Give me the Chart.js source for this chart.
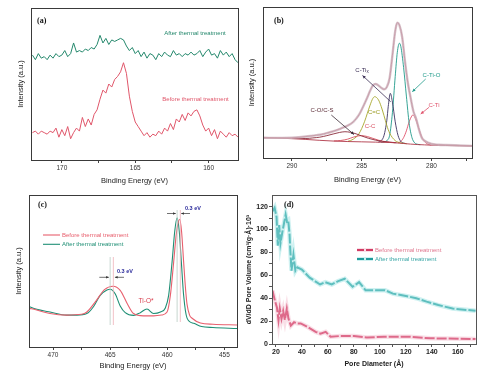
<!DOCTYPE html>
<html><head><meta charset="utf-8">
<script src="https://cdn.jsdelivr.net/npm/chart.js@4/dist/chart.umd.min.js"></script>
<style>
html,body{margin:0;padding:0;background:#fff;}
#wrap{position:relative;width:488px;height:373px;overflow:hidden;background:#fff;}
canvas{position:absolute;}
</style></head><body>
<div id="wrap">
<canvas id="ca" width="244" height="190" style="left:0;top:0"></canvas>
<canvas id="cb" width="244" height="190" style="left:244px;top:0"></canvas>
<canvas id="cc" width="244" height="183" style="left:0;top:190px"></canvas>
<canvas id="cd" width="244" height="183" style="left:244px;top:190px"></canvas>
</div>
<script>
// ---------- Panel (a): S 2p ----------
const energyA = [172.0,171.8,171.6,171.4,171.2,171.0,170.8,170.6,170.4,170.2,
170.0,169.8,169.6,169.4,169.2,169.0,168.8,168.6,168.4,168.2,
168.0,167.8,167.6,167.4,167.2,167.0,166.8,166.6,166.4,166.2,
166.0,165.8,165.6,165.4,165.2,165.0,164.8,164.6,164.4,164.2,
164.0,163.8,163.6,163.4,163.2,163.0,162.8,162.6,162.4,162.2,
162.0,161.8,161.6,161.4,161.2,161.0,160.8,160.6,160.4,160.2,
160.0,159.8,159.6,159.4,159.2,159.0,158.8,158.6,158.4,158.2,158.0];
const beforeA = [18,19,17,19,18,17,19,18,21,15,
20,16,22,14,18,21,19,28,22,27,
23,30,33,40,46,44,50,48,53,55,
58,64,57,42,32,25,22,19,16,18,
15,17,16,19,17,21,19,24,20,27,
25,30,26,31,29,32,33,29,23,19,
21,16,20,14,19,17,15,18,16,17,15];
const afterA = [69,66,70,67,68,66,69,67,70,68,
69,72,68,70,77,71,72,71,73,72,
74,73,76,82,77,80,76,79,78,79,
80,79,75,72,74,70,72,68,71,67,
70,69,66,70,68,71,69,68,72,69,
70,68,70,69,71,69,70,72,68,71,
73,69,70,67,72,69,71,68,70,66,64];
const ticksA = [170,167.5,165,162.5,160];

// ---------- Panel (b): C 1s fit ----------
const envE = [292,291,290,289.5,289,288.5,288,287.5,287,286.5,286,285.6,285.2,284.9,284.6,284.4,284.2,284.0,283.8,283.6,283.4,283.2,283.0,282.8,282.6,282.45,282.3,282.1,281.9,281.7,281.5,281.3,281.1,280.9,280.7,280.5,280.2,280,279.5,279,278,277];
const envB = [13.4,13.3,13.4,13.7,14.2,14.8,15.4,16.5,17.8,19.5,21.5,24,28.5,34,40,44.5,48,49,48,46.5,45.5,47,53,68,84,89.6,88,80,64,50,40,31,26,19,13.5,11.5,10,9.3,8.8,8.6,8.3,8.0];
const bgE = [292,291,290,289,288,287,286,285,284,283,282.5,282,281.5,281,280.5,280,279,278,277];
const bgB = [13.4,13.2,12.8,12.3,11.7,11.2,10.9,10.7,10.5,10.3,10.0,9.6,9.2,8.9,8.7,8.5,8.3,8.1,7.9];
const tiOE = [283.6,283.4,283.2,283.0,282.8,282.6,282.45,282.3,282.2,282.0,281.8,281.6,281.4,281.2,281.0,280.8];
const tiOB = [10.4,10.6,11.5,15,30,54,70,76,74,60,41,23,13.5,10,9.1,8.8];
const tixE = [283.8,283.6,283.4,283.2,283.1,282.95,282.8,282.6,282.4,282.2,282.0,281.8];
const tixB = [10.6,11.5,15,25,34,42.8,37,24,15,11,9.9,9.5];
const ccE = [286.0,285.6,285.2,284.8,284.6,284.4,284.2,284.07,283.8,283.6,283.4,283.2,283.0,282.6,282.2,281.8];
const ccB = [11,12.5,16,24,29.5,35,39.5,40.6,38.5,34,28,21.5,16.5,11.5,10,9.5];
const ctiE = [282.4,282.2,282.0,281.8,281.6,281.4,281.33,281.2,281.0,280.8,280.6,280.4,280.2,280.0];
const ctiB = [10.0,11,13.5,18,24,28,28.5,27,22,16.5,12,10,9,8.6];
const coE = [290.0,289.0,288.5,288.0,287.5,287.0,286.6,286.2,285.8,285.4,285.0,284.5,284.0,283.5,283.0,282.5];
const coB = [13.0,12.9,13.3,13.8,14.8,16,16.9,17.4,17.0,16.0,14.6,13,11.8,11,10.5,10.1];
const csE = [287.0,286.5,286.0,285.6,285.2,285.0,284.6,284.2,283.8,283.4,283.0,282.6];
const csB = [11.3,11.6,12.5,13.8,14.7,14.8,14.2,13,11.8,10.9,10.4,10.1];
const ticksB = [290,287.5,285,282.5,280,277.5];

// ---------- Panel (c): Ti 2p ----------
const beforeCE = [472.07,471.5,470.26,468.79,467.5,467.04,466.2,465.5,464.75,464.12,463.5,462.95,462.1,461.2,460.5,460.02,459.73,459.44,459.2,458.92,458.75,458.57,458.4,458.27,458.05,457.83,457.1,456,453.9];
const beforeC = [25.4,24.5,22,21,21.5,23,30.7,37.7,40,37.3,28.5,22,20.5,20.5,21,23,34,56,75,84,76,56,38,28,21,18.9,15.8,15,14.5];
const afterCE = [472.07,471.5,470.26,468.79,467.9,467.04,466.46,465.87,465.28,465.0,464.56,464.12,463.68,462.95,462.36,461.78,461.2,460.6,460.17,459.88,459.58,459.35,459.14,458.95,458.77,458.57,458.27,457.68,457,456,453.9];
const afterC = [26.5,25,23,21,21,22,26.5,34,37.5,38,35,27,22.6,20.8,22.6,25,22,23,25.7,34,56,76,85,76,56,34,19,15.6,13.5,12.8,12.2];
const ticksC = [470,467.5,465,462.5,460,457.5,455];

// ---------- Panel (d): pore size distribution ----------
const poreBeforeX = [17.4,19.2,20.8,22,23,24.3,25.6,26.9,28.4,29.7,31.5,34,36.6,39.1,44.2,50.6,54.4,58.3,62.1,69.7,80,90,103,123,138.6,173.6];
const poreBeforeY = [46.6,38,32,20.7,31,22,29,21,31,22,16,19,18,18,15,10.6,9,10.6,6.3,7,7,5.7,6.3,6.3,5,4.3];
const poreAfterX = [17.5,19,20.5,21.5,22.5,23.5,25,26,27.5,28.5,29.5,30.5,31,32,33.5,35,36.5,40,46,54,58,63,68,73,79,84,89,96,104,110,120,128,136,145,156,173.6];
const poreAfterY = [116,119,111,86,104,88,98,104,113,107,108,96,84,64,78,64,67,65,58,52,54,52,55,57,50,54,47,47,47,44,42,40,37,34,31,29];
const ticksDX = [20,30,40,50,60,70,80,90,100,110,120,130,140,150,160,170];
const ticksDY = [0,10,20,30,40,50,60,70,80,90,100,110,120];

// ---------- helpers ----------
const SANS = '"Liberation Sans", Arial, sans-serif';
const SERIF = '"Liberation Serif", "Times New Roman", serif';
function pts(xs, ys){ return xs.map((x,i)=>({x:x, y:ys[i]})); }

const framePlugin = {
  id:'frame',
  afterDatasetsDraw(chart){
    const c = chart.ctx, a = chart.chartArea;
    const col = chart.options.frameColor || '#3a3a3a';
    c.save(); c.strokeStyle = col; c.lineWidth = 1;
    c.strokeRect(Math.round(a.left)+0.5, Math.round(a.top)+0.5, Math.round(a.right-a.left), Math.round(a.bottom-a.top));
    c.restore();
  }
};
function arrowHead(c, x1,y1,x2,y2, size){
  const ang = Math.atan2(y2-y1, x2-x1);
  c.beginPath();
  c.moveTo(x2,y2);
  c.lineTo(x2 - size*Math.cos(ang-0.45), y2 - size*Math.sin(ang-0.45));
  c.lineTo(x2 - size*Math.cos(ang+0.45), y2 - size*Math.sin(ang+0.45));
  c.closePath(); c.fill();
}
function makeNotes(items){
  return {
    id:'notes',
    afterDraw(chart){
      const c = chart.ctx;
      items.forEach(it=>{
        c.save();
        if (it.t==='text'){
          c.font = it.font; c.fillStyle = it.color; c.textAlign = it.align||'left'; c.textBaseline='middle';
          if (it.sub){
            const w = c.measureText(it.s).width;
            c.font = it.subFont;
            const ws = c.measureText(it.sub).width;
            c.font = it.font; c.textAlign='left';
            const x0 = it.align==='center' ? it.x - (w+ws)/2 : it.x;
            c.fillText(it.s, x0, it.y);
            c.font = it.subFont; c.fillText(it.sub, x0+w, it.y+2);
          } else {
            c.fillText(it.s, it.x, it.y);
          }
        } else if (it.t==='arrow'){
          c.strokeStyle = it.color; c.fillStyle = it.color; c.lineWidth = it.w||0.8;
          c.beginPath(); c.moveTo(it.x1,it.y1); c.lineTo(it.x2,it.y2); c.stroke();
          arrowHead(c, it.x1,it.y1,it.x2,it.y2, it.size||3.5);
        } else if (it.t==='line'){
          c.strokeStyle = it.color; c.lineWidth = it.w||1;
          if (it.dash) c.setLineDash(it.dash);
          c.beginPath(); c.moveTo(it.x1,it.y1); c.lineTo(it.x2,it.y2); c.stroke();
        } else if (it.t==='vline'){
          const x = chart.scales.x.getPixelForValue(it.e);
          c.strokeStyle = it.color; c.lineWidth = it.w||1;
          c.beginPath(); c.moveTo(x,it.y1); c.lineTo(x,it.y2); c.stroke();
        }
        c.restore();
      });
    }
  };
}
function xAxis(o){
  return {
    type:'linear', reverse:!!o.reverse, min:o.min, max:o.max,
    afterFit:s=>{ s.height = o.h; },
    afterBuildTicks:s=>{ s.ticks = o.ticks.map(v=>({value:v})); },
    ticks:{ callback:o.label, font:o.tickFont, color:o.tickColor||'#333', padding:1, maxRotation:0, minRotation:0, autoSkip:false },
    grid:{ display:true, drawOnChartArea:false, drawTicks:true, tickLength:3, color:o.gridColor||'#444' },
    border:{ display:false },
    title:{ display:true, text:o.title, font:o.titleFont, color:o.titleColor||'#222', padding:{top:0,bottom:o.tpb} }
  };
}
function yAxisNoTicks(o){
  return {
    type:'linear', min:0, max:100,
    afterFit:s=>{ s.width = o.w; },
    ticks:{ display:false }, grid:{ display:false }, border:{ display:false },
    title:{ display:true, text:'Intensity (a.u.)', font:{family:SANS,size:7.5}, color:'#222', padding:{top:o.tpt,bottom:0} }
  };
}
const baseOpts = { responsive:false, animation:false, devicePixelRatio:1, events:[] };
const noPlug = { legend:{display:false}, tooltip:{enabled:false} };
const line = (data, color, w, extra) => Object.assign({ data:data, borderColor:color, borderWidth:w, pointRadius:0, fill:false, tension:0 }, extra||{});
const smooth = { cubicInterpolationMode:'monotone' };

// ---------- Chart (a) ----------
new Chart(document.getElementById('ca'), {
  type:'line',
  data:{ datasets:[
    line(pts(energyA, afterA), '#23876b', 1),
    line(pts(energyA, beforeA), '#e0566a', 1)
  ]},
  options:Object.assign({}, baseOpts, {
    layout:{ padding:{top:8,right:6,left:0,bottom:0} },
    plugins:noPlug,
    scales:{
      x:xAxis({reverse:true,min:158,max:172.1,h:30,ticks:ticksA,label:v=>(v%5===0?String(v):''),
        tickFont:{family:SANS,size:6.5},title:'Binding Energy (eV)',titleFont:{family:SANS,size:7.5},tpb:4.8}),
      y:yAxisNoTicks({w:31,tpt:16})
    }
  }),
  plugins:[framePlugin, makeNotes([
    {t:'text', s:'(a)', x:37, y:21, font:'bold 8px '+SERIF, color:'#111'},
    {t:'text', s:'After thermal treatment', x:195, y:33.5, align:'center', font:'6px '+SANS, color:'#23876b'},
    {t:'text', s:'Before thermal treatment', x:195.5, y:99, align:'center', font:'6px '+SANS, color:'#e0566a'}
  ])]
});

// ---------- Chart (b) ----------
new Chart(document.getElementById('cb'), {
  type:'line',
  data:{ datasets:[
    line(pts(envE, envB), 'rgba(205,180,190,0.8)', 2.4, smooth),
    line(pts(bgE, bgB), '#b03848', 0.9, smooth),
    line(pts(coE, coB), '#8a2a3a', 0.9, smooth),
    line(pts(csE, csB), '#d8505e', 0.9, smooth),
    line(pts(ccE, ccB), '#a6a62a', 0.9, smooth),
    line(pts(tixE, tixB), '#3b3160', 0.9, smooth),
    line(pts(tiOE, tiOB), '#1f9a8a', 0.9, smooth),
    line(pts(ctiE, ctiB), '#e0506a', 0.9, smooth),
    line(pts(envE, envB), '#b0304c', 0.9, smooth)
  ]},
  options:Object.assign({}, baseOpts, {
    layout:{ padding:{top:7,right:16,left:0,bottom:0} },
    plugins:noPlug,
    scales:{
      x:xAxis({reverse:true,min:277.1,max:292.07,h:32,ticks:ticksB,label:v=>(v%5===0?String(v):''),
        tickFont:{family:SANS,size:6.5},title:'Binding Energy (eV)',titleFont:{family:SANS,size:7.5},tpb:5.8}),
      y:yAxisNoTicks({w:19,tpt:3.8})
    }
  }),
  plugins:[framePlugin, makeNotes([
    {t:'text', s:'(b)', x:30, y:21, font:'bold 8px '+SERIF, color:'#111'},
    {t:'text', s:'C-Ti', sub:'x', x:118, y:70, align:'center', font:'6px '+SANS, subFont:'4.5px '+SANS, color:'#3b2f55'},
    {t:'arrow', x1:146.7, y1:101.7, x2:118.5, y2:75.5, color:'#3b2f55', w:0.8},
    {t:'text', s:'C-Ti-O', x:187.5, y:75, align:'center', font:'6px '+SANS, color:'#1f9a8a'},
    {t:'arrow', x1:181.7, y1:79, x2:168.3, y2:91.7, color:'#1f9a8a', w:0.8},
    {t:'text', s:'C-Ti', x:190, y:105, align:'center', font:'6px '+SANS, color:'#e0506a'},
    {t:'arrow', x1:185, y1:107.3, x2:176.7, y2:114, color:'#e0506a', w:0.8},
    {t:'text', s:'C-O/C-S', x:78, y:110, align:'center', font:'6px '+SANS, color:'#5a2a35'},
    {t:'arrow', x1:87.3, y1:115, x2:110, y2:134.5, color:'#3a2a35', w:0.8},
    {t:'text', s:'C=C', x:130, y:112.7, align:'center', font:'6px '+SANS, color:'#9a9a20'},
    {t:'text', s:'C-C', x:126, y:126.7, align:'center', font:'6px '+SANS, color:'#d85060'}
  ])]
});

// ---------- Chart (c) ----------
new Chart(document.getElementById('cc'), {
  type:'line',
  data:{ datasets:[
    line(pts(beforeCE, beforeC), '#e8606e', 1.1, smooth),
    line(pts(afterCE, afterC), '#1f8f75', 1.1, smooth)
  ]},
  options:Object.assign({}, baseOpts, {
    layout:{ padding:{top:5,right:7,left:0,bottom:0} },
    plugins:noPlug,
    scales:{
      x:xAxis({reverse:true,min:453.9,max:472.1,h:26,ticks:ticksC,label:v=>(v%5===0?String(v):''),
        tickFont:{family:SANS,size:6.5},title:'Binding Energy (eV)',titleFont:{family:SANS,size:7.5},tpb:2.5}),
      y:yAxisNoTicks({w:29,tpt:14.8})
    }
  }),
  plugins:[framePlugin, makeNotes([
    {t:'vline', e:459.14, y1:20, y2:132, color:'#b9ccc4', w:0.8},
    {t:'vline', e:458.86, y1:20, y2:132, color:'#eeb0b8', w:0.8},
    {t:'vline', e:465.0, y1:67, y2:135, color:'#b9ccc4', w:0.8},
    {t:'vline', e:464.72, y1:67, y2:135, color:'#eeb0b8', w:0.8},
    {t:'text', s:'(c)', x:38, y:15, font:'bold 8px '+SERIF, color:'#111'},
    {t:'line', x1:43, y1:45, x2:60, y2:45, color:'#e8606e', w:1.1},
    {t:'text', s:'Before thermal treatment', x:62, y:45, font:'6px '+SANS, color:'#e8606e'},
    {t:'line', x1:43, y1:54.3, x2:60, y2:54.3, color:'#1f8f75', w:1.1},
    {t:'text', s:'After thermal treatment', x:62, y:54.3, font:'6px '+SANS, color:'#1f8f75'},
    {t:'arrow', x1:167, y1:23.5, x2:175.8, y2:23.5, color:'#333', w:0.7, size:3},
    {t:'arrow', x1:190, y1:23.5, x2:181.2, y2:23.5, color:'#333', w:0.7, size:3},
    {t:'text', s:'0.3 eV', x:185, y:18.5, font:'bold 5.5px '+SANS, color:'#2b2b9b'},
    {t:'arrow', x1:99.3, y1:87.3, x2:108.8, y2:87.3, color:'#333', w:0.7, size:3},
    {t:'arrow', x1:124, y1:87.3, x2:114.9, y2:87.3, color:'#333', w:0.7, size:3},
    {t:'text', s:'0.3 eV', x:117, y:81, font:'bold 5.5px '+SANS, color:'#2b2b9b'},
    {t:'text', s:'Ti-O*', x:146, y:111.7, align:'center', font:'6.5px '+SANS, color:'#d83a4a'}
  ])]
});

// ---------- Chart (d) ----------
const dashed = { borderDash:[10,2] };
new Chart(document.getElementById('cd'), {
  type:'line',
  data:{ datasets:[
    line(pts(poreBeforeX, poreBeforeY), 'rgba(240,175,195,0.4)', 4.5),
    line(pts(poreAfterX, poreAfterY), 'rgba(160,228,228,0.5)', 4.5),
    line(pts(poreBeforeX, poreBeforeY), '#d23c64', 2, dashed),
    line(pts(poreAfterX, poreAfterY), '#1f9b9b', 2, dashed)
  ]},
  options:Object.assign({}, baseOpts, {
    frameColor:'#555',
    layout:{ padding:{top:4,right:12,left:0,bottom:0} },
    plugins:noPlug,
    scales:{
      x:xAxis({min:17,max:174,h:29,ticks:ticksDX,label:v=>(v%20===0 && v<=160?String(v):''),
        tickFont:{family:SANS,size:7,weight:'bold'},tickColor:'#222',title:'Pore Diameter (Å)',
        titleFont:{family:SANS,size:7,weight:'bold'},tpb:4.5,gridColor:'#555'}),
      y:{
        type:'linear', min:0, max:130,
        afterFit:s=>{ s.width = 28; },
        afterBuildTicks:s=>{ s.ticks = ticksDY.map(v=>({value:v})); },
        ticks:{ callback:v=>(v%20===0?String(v):''), font:{family:SANS,size:7,weight:'bold'}, color:'#222', padding:1, autoSkip:false },
        grid:{ display:true, drawOnChartArea:false, drawTicks:true, tickLength:3, color:'#555' },
        border:{ display:false },
        title:{ display:true, text:'dV/dD Pore Volume (cm³/g·Å)·10³', font:{family:SANS,size:7,weight:'bold'}, color:'#222', padding:{top:1,bottom:0} }
      }
    }
  }),
  plugins:[framePlugin, makeNotes([
    {t:'text', s:'(d)', x:40, y:15, font:'bold 8px '+SERIF, color:'#111'},
    {t:'line', x1:113, y1:60, x2:129, y2:60, color:'rgba(240,175,195,0.4)', w:4},
    {t:'line', x1:113, y1:60, x2:129, y2:60, color:'#d23c64', w:2, dash:[7,2]},
    {t:'text', s:'Before thermal treatment', x:131, y:60, font:'6px '+SANS, color:'#e07890'},
    {t:'line', x1:113, y1:69, x2:129, y2:69, color:'rgba(160,228,228,0.5)', w:4},
    {t:'line', x1:113, y1:69, x2:129, y2:69, color:'#1f9b9b', w:2, dash:[7,2]},
    {t:'text', s:'After thermal treatment', x:131, y:69, font:'6px '+SANS, color:'#3aa6a6'}
  ])]
});
</script>
</body></html>
